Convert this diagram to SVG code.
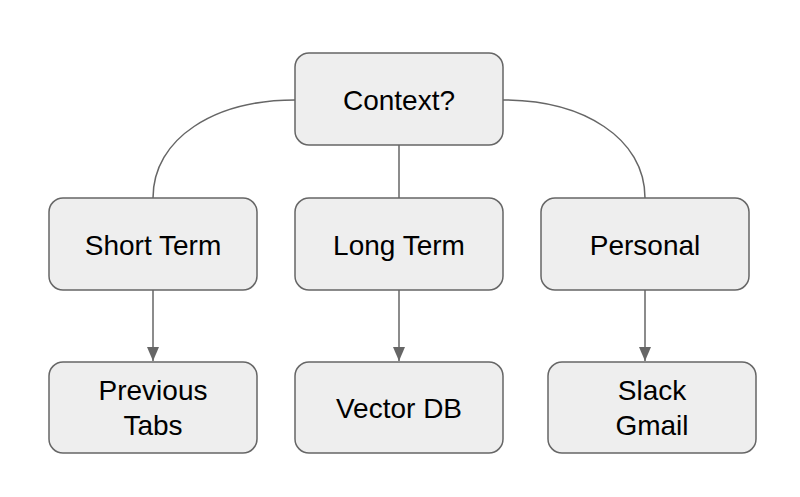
<svg xmlns="http://www.w3.org/2000/svg" width="800" height="497" viewBox="0 0 800 497">
<style>
.box{fill:#eeeeee;stroke:#666666;stroke-width:1.5}
.t{font-family:"Liberation Sans",Arial,sans-serif;font-size:28px;fill:#000;text-anchor:middle}
.c{fill:none;stroke:#666666;stroke-width:1.5}
</style>
<defs>
<marker id="ah" viewBox="0 0 14 12" refX="14" refY="6" markerWidth="14" markerHeight="12" markerUnits="userSpaceOnUse" orient="auto">
<path d="M0,0 L14,6 L0,12 z" fill="#666666"/>
</marker>
</defs>
<rect width="800" height="497" fill="#ffffff"/>
<g id="connectors">
<path class="c" d="M295,100 C215,100 153,138 153,198"/>
<path class="c" d="M503,100 C583,100 645,138 645,198"/>
<path class="c" d="M399,145 L399,198"/>
<path class="c" d="M153,290 L153,361" marker-end="url(#ah)"/>
<path class="c" d="M399,290 L399,361" marker-end="url(#ah)"/>
<path class="c" d="M645,290 L645,361" marker-end="url(#ah)"/>
</g>
<g id="context"><rect class="box" x="295" y="53" width="208" height="92" rx="14"/><text class="t" x="399" y="110">Context?</text></g>
<g id="short"><rect class="box" x="49" y="198" width="208" height="92" rx="14"/><text class="t" x="153" y="255">Short Term</text></g>
<g id="long"><rect class="box" x="295" y="198" width="208" height="92" rx="14"/><text class="t" x="399" y="255">Long Term</text></g>
<g id="personal"><rect class="box" x="541" y="198" width="208" height="92" rx="14"/><text class="t" x="645" y="255">Personal</text></g>
<g id="tabs"><rect class="box" x="49" y="362" width="208" height="91" rx="14"/><text class="t" x="153" y="400">Previous</text><text class="t" x="153" y="435">Tabs</text></g>
<g id="vector"><rect class="box" x="295" y="362" width="208" height="91" rx="14"/><text class="t" x="399" y="418">Vector DB</text></g>
<g id="slack"><rect class="box" x="548" y="362" width="208" height="91" rx="14"/><text class="t" x="652" y="400">Slack</text><text class="t" x="652" y="435">Gmail</text></g>
</svg>
